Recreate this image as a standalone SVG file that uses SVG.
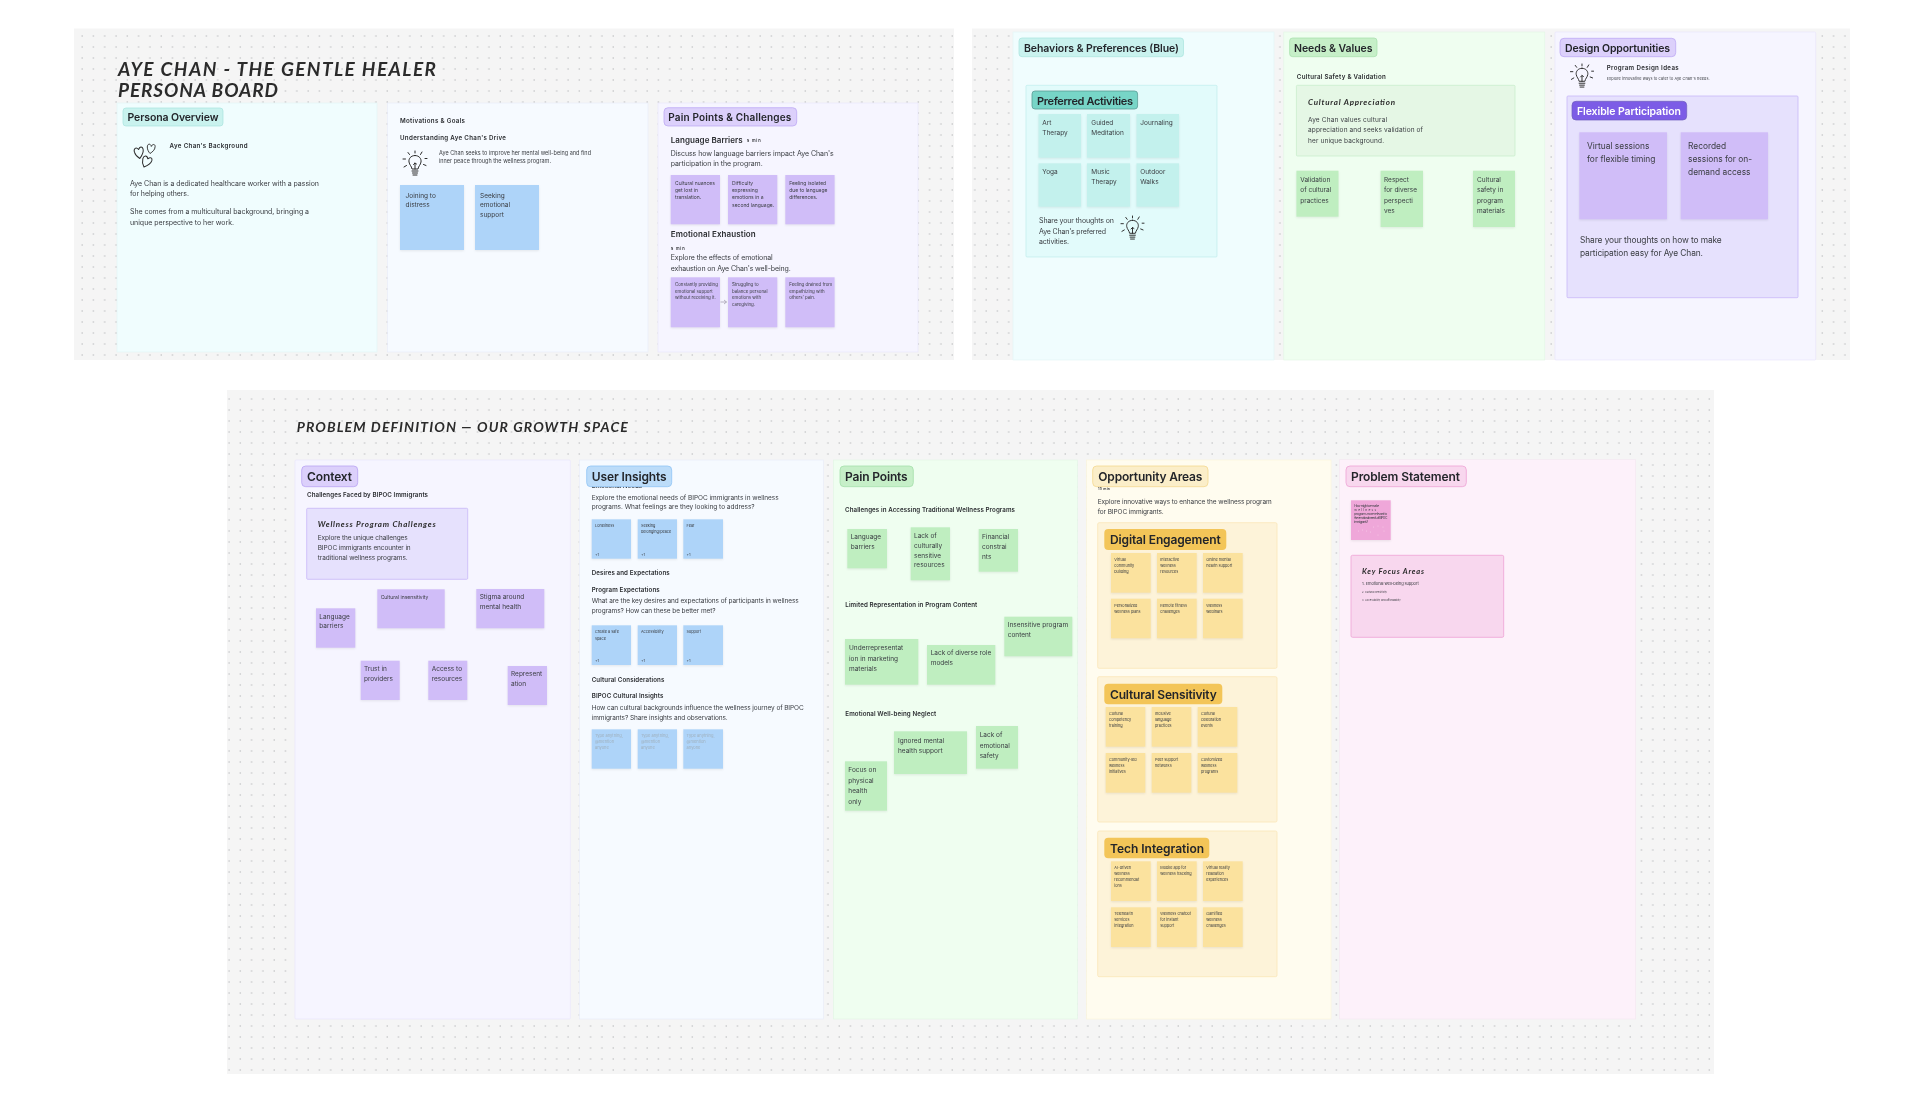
<svg xmlns="http://www.w3.org/2000/svg" width="1920" height="1098" viewBox="0 0 1920 1098">
<style>
text{font-family:Inter,"Liberation Sans",sans-serif;fill:#3a3d42;dominant-baseline:central;filter:blur(.3px)}
.b{font-weight:600;fill:#2a2c30}
.l{font-weight:600;fill:#23252a}
.w{font-weight:600;fill:#fff}
.g{fill:#9fb0bd}
.hand{font-family:Lato,"Liberation Sans",sans-serif;font-style:italic;font-weight:700;fill:#2b2b2b}
.board{fill:#f5f5f5}
.s{filter:drop-shadow(0 1px 1px rgba(0,0,0,.08))}
.sb{fill:#aed4f9}.sp{fill:#d0bdf8}.sg{fill:#bfeec0}.st{fill:#c3f1ed}.sy{fill:#fbe29e}.sk{fill:#efa7d9}
.ico{fill:none;stroke:#2b2b2b;stroke-width:1;stroke-linecap:round;stroke-linejoin:round}
.f5{font-size:5px}.f55{font-size:5.5px}.f65{font-size:6.5px}.f7{font-size:7px}.f75{font-size:7.5px}.f8{font-size:8.4px}.f4{font-size:4px}
.b.f55{font-size:6.2px}
.s+text.f7{font-size:6.5px}.s+text.f55{font-size:5px}.s+text.f5{font-size:4.4px}.sy+text{font-size:3.8px}
</style>
<defs>
<pattern id="dots" width="11.3" height="11" patternUnits="userSpaceOnUse"><circle cx="3" cy="3" r=".7" fill="#b8babc"/></pattern>
<symbol id="bulb" viewBox="0 0 26 27"><g class="ico"><path d="M13 5.500C8.500 5.500 6.500 9 7 12C7.500 15 9.500 16 10 19H16C16.500 16 18.500 15 19 12C19.500 9 17.500 5.500 13 5.500Z"/><path d="M10 21H16M10.500 23H15.500M11 25H15M13 19V13L11.500 14.500M13 13L14.500 14"/><path d="M13 1V3M6 2.500L7.500 4.500M20 2L18.500 4.500M1 9H3.500M23 8.500H25M2 17L4.500 15.500M24 15.500L21.500 14.500"/></g></symbol>
<path id="heart" d="M5 3C3 0 0 1 .5 5C1 8 3 10.500 5 12C7.500 9.500 10 7 9.500 3C9 0 6.500 0 5 3Z"/>
</defs>
<rect width="1920" height="1098" fill="#fff"/>

<g id="board-persona">
<rect class="board" x="74" y="28.500" width="880" height="331.500"/><rect x="74" y="28.500" width="880" height="331.500" fill="url(#dots)"/>
<text class="hand" font-size="19" x="118" y="68" textLength="318">AYE CHAN - THE GENTLE HEALER</text>
<text class="hand" font-size="19" x="118" y="89" textLength="160">PERSONA BOARD</text>
</g>
<g id="board-behaviors"><rect class="board" x="972" y="28.500" width="878" height="331.500"/><rect x="972" y="28.500" width="878" height="331.500" fill="url(#dots)"/></g>
<g id="board-problem">
<rect class="board" x="227" y="390" width="1487" height="684"/><rect x="227" y="390" width="1487" height="684" fill="url(#dots)"/>
<text class="hand" font-size="14" x="296.700" y="426.500" textLength="331">PROBLEM DEFINITION — OUR GROWTH SPACE</text>
</g>

<g id="col-persona-overview">
<rect x="117" y="103" width="260" height="249" fill="#f0fdfe" stroke="#e2f6f6" stroke-width=".6"/>
<rect x="123" y="108" width="100" height="18" rx="3" fill="#c9f2ee" stroke="#a8e4de" stroke-width=".7"/>
<text class="l" font-size="10.500" x="127.500" y="117.500" textLength="91">Persona Overview</text>
<g class="ico" stroke-width="1.200"><use href="#heart" transform="translate(134 146.500) rotate(-8 5 6)"/><use href="#heart" transform="translate(146.500 143.500) rotate(10 5 6) scale(.85)"/><use href="#heart" transform="translate(141.500 155.500) rotate(25 5 6)"/></g>
<text class="b f55" x="169.500" y="145.500" textLength="78">Aye Chan's Background</text>
<text class="f7" x="130" y="183" textLength="189">Aye Chan is a dedicated healthcare worker with a passion</text>
<text class="f7" x="130" y="193.500" textLength="59">for helping others.</text>
<text class="f7" x="130" y="211.700" textLength="179">She comes from a multicultural background, bringing a</text>
<text class="f7" x="130" y="222.300" textLength="104">unique perspective to her work.</text>
</g>

<g id="col-motivations">
<rect x="387.600" y="103" width="260.400" height="249" fill="#f6faff" stroke="#e8ebf8" stroke-width=".6"/>
<text class="b f55" x="400" y="120" textLength="65">Motivations &amp; Goals</text>
<text class="b f55" x="400" y="137.700" textLength="106">Understanding Aye Chan's Drive</text>
<use href="#bulb" x="402" y="150" width="26" height="27"/>
<text class="f55" x="439" y="152.700" textLength="152">Aye Chan seeks to improve her mental well-being and find</text>
<text class="f55" x="439" y="161" textLength="112">inner peace through the wellness program.</text>
</g>
<g id="note-joining"><rect class="s sb" x="400" y="185" width="64" height="65"/><text class="f7" x="405.600" y="195.700">Joining to<tspan x="405.600" y="205.300">distress</tspan></text></g>
<g id="note-seeking"><rect class="s sb" x="475" y="185" width="64" height="65"/><text class="f7" x="480" y="195.700">Seeking<tspan x="480" y="205.300">emotional</tspan><tspan x="480" y="215">support</tspan></text></g>

<g id="col-pain-challenges">
<rect x="658" y="103" width="260" height="249" fill="#f6f5ff" stroke="#e7e3fb" stroke-width=".6"/>
<rect x="664" y="107.700" width="132.700" height="18.300" rx="4" fill="#dcd0fb" stroke="#b9a3f3" stroke-width=".7"/>
<text class="l" font-size="10" x="668.300" y="117.300" textLength="123">Pain Points &amp; Challenges</text>
<text class="b" font-size="8" x="670.700" y="139.700" textLength="72">Language Barriers</text>
<text class="b" font-size="4" x="746.700" y="140" textLength="14">5 min</text>
<text class="f7" x="670.700" y="153.300" textLength="163">Discuss how language barriers impact Aye Chan's</text>
<text class="f7" x="670.700" y="163.700" textLength="92">participation in the program.</text>
<text class="b" font-size="8" x="670.700" y="233.700" textLength="85">Emotional Exhaustion</text>
<text class="b" font-size="4" x="670.700" y="248" textLength="14">5 min</text>
<text class="f7" x="670.700" y="257.700" textLength="102">Explore the effects of emotional</text>
<text class="f7" x="670.700" y="268.300" textLength="120">exhaustion on Aye Chan's well-being.</text>
</g>
<g id="note-nuances"><rect class="s sp" x="670.700" y="175" width="49.300" height="49.300"/><text class="f55" x="675" y="182.700">Cultural nuances<tspan x="675" y="190">get lost in</tspan><tspan x="675" y="197.300">translation.</tspan></text></g>
<g id="note-difficulty"><rect class="s sp" x="728" y="175" width="49.300" height="49.300"/><text class="f55" x="732" y="182.700">Difficulty<tspan x="732" y="190">expressing</tspan><tspan x="732" y="197.300">emotions in a</tspan><tspan x="732" y="204.700">second language.</tspan></text></g>
<g id="note-isolated"><rect class="s sp" x="785.300" y="175" width="49.300" height="49.300"/><text class="f55" x="789.300" y="182.700">Feeling isolated<tspan x="789.300" y="190">due to language</tspan><tspan x="789.300" y="197.300">differences.</tspan></text></g>
<g id="note-constantly"><rect class="s sp" x="670.700" y="277.300" width="49.300" height="50"/><text class="f5" x="675" y="284.700">Constantly providing<tspan x="675" y="291">emotional support</tspan><tspan x="675" y="297.300">without receiving it.</tspan></text></g>
<g id="note-struggling"><rect class="s sp" x="728" y="277.300" width="49.300" height="50"/><text class="f5" x="732" y="284.700">Struggling to<tspan x="732" y="291">balance personal</tspan><tspan x="732" y="297.300">emotions with</tspan><tspan x="732" y="303.700">caregiving.</tspan></text></g>
<g id="note-drained"><rect class="s sp" x="785.300" y="277.300" width="49.300" height="50"/><text class="f5" x="789.300" y="284.700">Feeling drained from<tspan x="789.300" y="291">empathizing with</tspan><tspan x="789.300" y="297.300">others' pain.</tspan></text></g>

<g id="col-behaviors">
<rect x="1013" y="32" width="261" height="328" fill="#f0fdfe" stroke="#e2f6f6" stroke-width=".6"/>
<rect x="1019" y="38" width="164.500" height="18.700" rx="3" fill="#c9f2ee" stroke="#a8e4de" stroke-width=".7"/>
<text class="l" font-size="10.500" x="1024" y="48" textLength="155">Behaviors &amp; Preferences (Blue)</text>
</g>
<g id="group-preferred">
<rect x="1026" y="85.300" width="191" height="171.700" rx="1" fill="#e2fbfb" stroke="#bfecec" stroke-width=".7"/>
<rect x="1032" y="91" width="105.600" height="18" rx="3" fill="#77d5c7" stroke="#5b9c95" stroke-width=".8"/>
<text class="l" font-size="11" x="1037" y="100.700" textLength="96">Preferred Activities</text>
<text class="f7" x="1039" y="220.700" textLength="75">Share your thoughts on</text>
<text class="f7" x="1039" y="231" textLength="67">Aye Chan's preferred</text>
<text class="f7" x="1039" y="241.700" textLength="30">activities.</text>
<use href="#bulb" x="1120" y="215" width="25" height="26"/>
</g>
<g id="note-art"><rect class="s st" x="1038.500" y="114" width="42.500" height="43.700"/><text class="f7" x="1042.300" y="122.700">Art<tspan x="1042.300" y="133.300">Therapy</tspan></text></g>
<g id="note-meditation"><rect class="s st" x="1087" y="114" width="43" height="43.700"/><text class="f7" x="1091.300" y="122.700">Guided<tspan x="1091.300" y="133.300">Meditation</tspan></text></g>
<g id="note-journaling"><rect class="s st" x="1136.500" y="114" width="42.500" height="43.700"/><text class="f7" x="1140.300" y="122.700">Journaling</text></g>
<g id="note-yoga"><rect class="s st" x="1038.500" y="163.300" width="42.500" height="43.400"/><text class="f7" x="1042.300" y="172">Yoga</text></g>
<g id="note-music"><rect class="s st" x="1087" y="163.300" width="43" height="43.400"/><text class="f7" x="1091.300" y="172">Music<tspan x="1091.300" y="182.300">Therapy</tspan></text></g>
<g id="note-outdoor"><rect class="s st" x="1136.500" y="163.300" width="42.500" height="43.400"/><text class="f7" x="1140.300" y="172">Outdoor<tspan x="1140.300" y="182.300">Walks</tspan></text></g>

<g id="col-needs">
<rect x="1283.800" y="32" width="261" height="328" fill="#effef0" stroke="#e2f6e4" stroke-width=".6"/>
<rect x="1289.600" y="38" width="87.400" height="18.700" rx="3" fill="#c6efc8" stroke="#a5e0ab" stroke-width=".7"/>
<text class="l" font-size="10.500" x="1294" y="48" textLength="78.500">Needs &amp; Values</text>
<text class="b f55" x="1296.800" y="76.800" textLength="89">Cultural Safety &amp; Validation</text>
</g>
<g id="box-appreciation">
<rect x="1296.400" y="85.300" width="218.600" height="70.700" rx="1" fill="#e5f7e5" stroke="#c6ecc8" stroke-width=".7"/>
<text class="hand" font-size="8" x="1308" y="101.700" textLength="87">Cultural Appreciation</text>
<text class="f65" x="1308" y="119.700" textLength="79">Aye Chan values cultural</text>
<text class="f65" x="1308" y="130" textLength="115">appreciation and seeks validation of</text>
<text class="f65" x="1308" y="140.700" textLength="76">her unique background.</text>
</g>
<g id="note-validation"><rect class="s sg" x="1296.400" y="170.700" width="42.100" height="46"/><text class="f7" x="1300.300" y="179.700">Validation<tspan x="1300.300" y="190">of cultural</tspan><tspan x="1300.300" y="201">practices</tspan></text></g>
<g id="note-respect"><rect class="s sg" x="1380.600" y="170.700" width="42.400" height="56.300"/><text class="f7" x="1384" y="179.700">Respect<tspan x="1384" y="190">for diverse</tspan><tspan x="1384" y="201">perspecti</tspan><tspan x="1384" y="211.300">ves</tspan></text></g>
<g id="note-safety"><rect class="s sg" x="1473" y="170.700" width="42" height="56.300"/><text class="f7" x="1477" y="179.700">Cultural<tspan x="1477" y="190">safety in</tspan><tspan x="1477" y="201">program</tspan><tspan x="1477" y="211.300">materials</tspan></text></g>

<g id="col-design">
<rect x="1555" y="32" width="260.700" height="328" rx="1" fill="#f6f5ff" stroke="#e7e3fb" stroke-width=".6"/>
<rect x="1560" y="38.300" width="115.700" height="18.400" rx="4" fill="#dcd0fb" stroke="#b9a3f3" stroke-width=".7"/>
<text class="l" font-size="10.500" x="1565" y="48" textLength="105">Design Opportunities</text>
<use href="#bulb" x="1569" y="63" width="26" height="26"/>
<text class="b f55" x="1606.700" y="67.300" textLength="72">Program Design Ideas</text>
<text font-size="3.800" x="1606.700" y="78.700" textLength="103">Explore innovative ways to cater to Aye Chan's needs.</text>
</g>
<g id="group-flexible">
<rect x="1567" y="96" width="231" height="201.700" rx="1" fill="#e6e1fd" stroke="#c8b8f8" stroke-width=".8"/>
<rect x="1572" y="101.300" width="114.700" height="18.700" rx="4" fill="#7c5ce6" stroke="#6f5dbb" stroke-width=".7"/>
<text class="w" font-size="10.500" x="1577" y="111" textLength="104">Flexible Participation</text>
<text class="f8" x="1580" y="240" textLength="141.700">Share your thoughts on how to make</text>
<text class="f8" x="1580" y="252.700" textLength="123">participation easy for Aye Chan.</text>
</g>
<g id="note-virtual"><rect class="s sp" x="1579.300" y="132.300" width="87.700" height="87"/><text class="f8" x="1587" y="146">Virtual sessions<tspan x="1587" y="159">for flexible timing</tspan></text></g>
<g id="note-recorded"><rect class="s sp" x="1680.700" y="132.300" width="87.300" height="87"/><text class="f8" x="1688" y="146">Recorded<tspan x="1688" y="159">sessions for on-</tspan><tspan x="1688" y="172">demand access</tspan></text></g>

<g id="col-context">
<rect x="295" y="460" width="275.300" height="559" rx="1" fill="#f6f5ff" stroke="#e7e3fb" stroke-width=".6"/>
<rect x="301.700" y="466" width="56" height="20.700" rx="4" fill="#dcd0fb" stroke="#b9a3f3" stroke-width=".8"/>
<text class="l" font-size="12" x="307" y="476" textLength="45">Context</text>
<text class="b f55" x="307" y="494.700" textLength="121">Challenges Faced by BIPOC Immigrants</text>
</g>
<g id="box-wellness">
<rect x="306.700" y="508.300" width="161" height="71" rx="1" fill="#e6e1fd" stroke="#c8b8f8" stroke-width=".8"/>
<text class="hand" font-size="8" x="317.700" y="524.300" textLength="118">Wellness Program Challenges</text>
<text class="f65" x="317.700" y="538.300" textLength="90">Explore the unique challenges</text>
<text class="f65" x="317.700" y="548" textLength="93">BIPOC immigrants encounter in</text>
<text class="f65" x="317.700" y="557.700" textLength="90">traditional wellness programs.</text>
</g>
<g id="note-c-language"><rect class="s sp" x="316" y="608.300" width="39.300" height="39.400"/><text class="f7" x="319.300" y="616.700">Language<tspan x="319.300" y="626.300">barriers</tspan></text></g>
<g id="note-c-insensitivity"><rect class="s sp" x="377.300" y="589.300" width="67.400" height="39"/><text class="f55" x="380.700" y="597">Cultural insensitivity</text></g>
<g id="note-c-stigma"><rect class="s sp" x="476.300" y="589" width="68" height="39.300"/><text class="f7" x="479.700" y="597">Stigma around<tspan x="479.700" y="607">mental health</tspan></text></g>
<g id="note-c-trust"><rect class="s sp" x="360.700" y="660.700" width="39" height="39.300"/><text class="f7" x="364" y="669">Trust in<tspan x="364" y="679">providers</tspan></text></g>
<g id="note-c-access"><rect class="s sp" x="428.300" y="660.700" width="39" height="39.300"/><text class="f7" x="431.700" y="669">Access to<tspan x="431.700" y="679">resources</tspan></text></g>
<g id="note-c-representation"><rect class="s sp" x="507.700" y="666" width="39.300" height="39"/><text class="f7" x="511" y="674.300">Represent<tspan x="511" y="684.300">ation</tspan></text></g>

<g id="col-insights">
<rect x="579.300" y="460" width="244" height="559" fill="#f6faff" stroke="#e8ebf8" stroke-width=".6"/>
<text class="b f55" x="591.700" y="485">Emotional Needs</text>
<rect x="586.700" y="466" width="85" height="20.700" rx="4" fill="#bcdcf9" stroke="#8fc4f5" stroke-width=".8"/>
<text class="l" font-size="12" x="591.700" y="476" textLength="75">User Insights</text>
<text class="f65" x="591.700" y="497.700" textLength="187">Explore the emotional needs of BIPOC immigrants in wellness</text>
<text class="f65" x="591.700" y="507.300" textLength="163">programs. What feelings are they looking to address?</text>
<text class="b f55" x="591.700" y="572.700" textLength="78">Desires and Expectations</text>
<text class="b f55" x="591.700" y="589" textLength="68">Program Expectations</text>
<text class="f65" x="591.700" y="601.300" textLength="207">What are the key desires and expectations of participants in wellness</text>
<text class="f65" x="591.700" y="611" textLength="124">programs? How can these be better met?</text>
<text class="b f55" x="591.700" y="679" textLength="72.700">Cultural Considerations</text>
<text class="b f55" x="591.700" y="695.300" textLength="71.700">BIPOC Cultural Insights</text>
<text class="f65" x="591.700" y="707.700" textLength="212">How can cultural backgrounds influence the wellness journey of BIPOC</text>
<text class="f65" x="591.700" y="717.700" textLength="136">immigrants? Share insights and observations.</text>
</g>
<g id="note-i-loneliness"><rect class="s sb" x="591.700" y="519.300" width="39.300" height="39.400"/><text font-size="3.800" x="595" y="525.300">Loneliness<tspan x="595" y="553.700">+1</tspan></text></g>
<g id="note-i-belonging"><rect class="s sb" x="637.700" y="519.300" width="39.300" height="39.400"/><text font-size="3.800" x="641" y="525.300">Seeking<tspan x="641" y="531.300">belonging/peace</tspan><tspan x="641" y="553.700">+1</tspan></text></g>
<g id="note-i-fear"><rect class="s sb" x="683.300" y="519.300" width="39.700" height="39.400"/><text font-size="3.800" x="686.600" y="525.300">Fear<tspan x="686.600" y="553.700">+1</tspan></text></g>
<g id="note-i-safe"><rect class="s sb" x="591.700" y="625.300" width="39.300" height="39.700"/><text font-size="3.800" x="595" y="631.700">Create a safe<tspan x="595" y="637.700">space</tspan><tspan x="595" y="659.700">+1</tspan></text></g>
<g id="note-i-accessibility"><rect class="s sb" x="637.700" y="625.300" width="39.300" height="39.700"/><text font-size="3.800" x="641" y="631.700">Accessibility<tspan x="641" y="659.700">+1</tspan></text></g>
<g id="note-i-support"><rect class="s sb" x="683.300" y="625.300" width="39.700" height="39.700"/><text font-size="3.800" x="686.600" y="631.700">Support<tspan x="686.600" y="659.700">+1</tspan></text></g>
<g id="note-i-type1"><rect class="s sb" x="591.700" y="729.300" width="39.300" height="39.400"/><text class="g" font-size="4" x="595" y="735.300">Type anything,<tspan x="595" y="741.300">@mention</tspan><tspan x="595" y="747.300">anyone</tspan></text></g>
<g id="note-i-type2"><rect class="s sb" x="637.700" y="729.300" width="39.300" height="39.400"/><text class="g" font-size="4" x="641" y="735.300">Type anything,<tspan x="641" y="741.300">@mention</tspan><tspan x="641" y="747.300">anyone</tspan></text></g>
<g id="note-i-type3"><rect class="s sb" x="683.300" y="729.300" width="39.700" height="39.400"/><text class="g" font-size="4" x="686.600" y="735.300">Type anything,<tspan x="686.600" y="741.300">@mention</tspan><tspan x="686.600" y="747.300">anyone</tspan></text></g>

<g id="col-pain-points">
<rect x="833.300" y="460" width="244" height="559" fill="#effef0" stroke="#e2f6e4" stroke-width=".6"/>
<rect x="840" y="466" width="73.300" height="20.700" rx="4" fill="#c6efc8" stroke="#a5e0ab" stroke-width=".8"/>
<text class="l" font-size="12" x="845" y="476" textLength="62.700">Pain Points</text>
<text class="b f55" x="845" y="509.300" textLength="170">Challenges in Accessing Traditional Wellness Programs</text>
<text class="b f55" x="845.300" y="604" textLength="132">Limited Representation in Program Content</text>
<text class="b f55" x="845.300" y="713.700" textLength="91">Emotional Well-being Neglect</text>
</g>
<g id="note-p-language"><rect class="s sg" x="847.300" y="529" width="39.700" height="39.300"/><text class="f7" x="850.700" y="537.300">Language<tspan x="850.700" y="547">barriers</tspan></text></g>
<g id="note-p-culturally"><rect class="s sg" x="910.700" y="527.300" width="39.300" height="53"/><text class="f7" x="914" y="535.700">Lack of<tspan x="914" y="545.700">culturally</tspan><tspan x="914" y="555.700">sensitive</tspan><tspan x="914" y="565.300">resources</tspan></text></g>
<g id="note-p-financial"><rect class="s sg" x="978.700" y="529" width="39.300" height="42.700"/><text class="f7" x="982" y="537.300">Financial<tspan x="982" y="547">constrai</tspan><tspan x="982" y="556.700">nts</tspan></text></g>
<g id="note-p-insensitive"><rect class="s sg" x="1004.300" y="616.700" width="68" height="39.600"/><text class="f7" x="1007.700" y="625">Insensitive program<tspan x="1007.700" y="634.700">content</tspan></text></g>
<g id="note-p-under"><rect class="s sg" x="845" y="639" width="73.300" height="45.700"/><text class="f7" x="849" y="648">Underrepresentat<tspan x="849" y="658.700">ion in marketing</tspan><tspan x="849" y="669">materials</tspan></text></g>
<g id="note-p-diverse"><rect class="s sg" x="927" y="645" width="68.300" height="39.700"/><text class="f7" x="930.700" y="653.300">Lack of diverse role<tspan x="930.700" y="663">models</tspan></text></g>
<g id="note-p-ignored"><rect class="s sg" x="894" y="731.300" width="73" height="42.700"/><text class="f7" x="898" y="740.700">Ignored mental<tspan x="898" y="751">health support</tspan></text></g>
<g id="note-p-safety"><rect class="s sg" x="976" y="726" width="42" height="42.700"/><text class="f7" x="979.700" y="735">Lack of<tspan x="979.700" y="745.700">emotional</tspan><tspan x="979.700" y="756">safety</tspan></text></g>
<g id="note-p-focus"><rect class="s sg" x="845" y="761.300" width="42" height="49.400"/><text class="f7" x="848.300" y="770.300">Focus on<tspan x="848.300" y="780.700">physical</tspan><tspan x="848.300" y="791.300">health</tspan><tspan x="848.300" y="801.700">only</tspan></text></g>

<g id="col-opportunity">
<rect x="1086.700" y="460" width="244.300" height="559" fill="#fffcef" stroke="#fbf3d8" stroke-width=".6"/>
<rect x="1092.700" y="466" width="115.300" height="20.700" rx="4" fill="#fbeec9" stroke="#f4d88f" stroke-width=".8"/>
<text class="l" font-size="12" x="1098.300" y="476" textLength="104">Opportunity Areas</text>
<text class="b" font-size="3.500" x="1098" y="489" textLength="12">15 min</text>
<text class="f65" x="1097.700" y="501.700" textLength="174">Explore innovative ways to enhance the wellness program</text>
<text class="f65" x="1097.700" y="511.700" textLength="66">for BIPOC immigrants.</text>
</g>
<g id="group-digital">
<rect x="1097.700" y="522.700" width="179.300" height="145.600" rx="1.500" fill="#fdf3d9" stroke="#fae6b8" stroke-width=".8"/>
<rect x="1104.300" y="529" width="122" height="21" rx="4" fill="#f3c558"/>
<text class="l" font-size="12" x="1110" y="539.500" textLength="110.700">Digital Engagement</text>
</g>
<g id="note-d1"><rect class="s sy" x="1111" y="553" width="39.700" height="39.700"/><text font-size="4" x="1114.300" y="559">Virtual<tspan x="1114.300" y="565">community</tspan><tspan x="1114.300" y="571">building</tspan></text></g>
<g id="note-d2"><rect class="s sy" x="1157" y="553" width="39.700" height="39.700"/><text font-size="4" x="1160.300" y="559">Interactive<tspan x="1160.300" y="565">wellness</tspan><tspan x="1160.300" y="571">resources</tspan></text></g>
<g id="note-d3"><rect class="s sy" x="1203" y="553" width="39.700" height="39.700"/><text font-size="4" x="1206.300" y="559">Online mental<tspan x="1206.300" y="565">health support</tspan></text></g>
<g id="note-d4"><rect class="s sy" x="1111" y="598.700" width="39.700" height="39.600"/><text font-size="4" x="1114.300" y="605">Personalized<tspan x="1114.300" y="611">wellness plans</tspan></text></g>
<g id="note-d5"><rect class="s sy" x="1157" y="598.700" width="39.700" height="39.600"/><text font-size="4" x="1160.300" y="605">Remote fitness<tspan x="1160.300" y="611">challenges</tspan></text></g>
<g id="note-d6"><rect class="s sy" x="1203" y="598.700" width="39.700" height="39.600"/><text font-size="4" x="1206.300" y="605">Wellness<tspan x="1206.300" y="611">webinars</tspan></text></g>

<g id="group-cultural">
<rect x="1097.700" y="676.700" width="179.300" height="145.300" rx="1.500" fill="#fdf3d9" stroke="#fae6b8" stroke-width=".8"/>
<rect x="1104.300" y="683.700" width="118" height="20.600" rx="4" fill="#f3c558"/>
<text class="l" font-size="12" x="1110" y="694" textLength="106.700">Cultural Sensitivity</text>
</g>
<g id="note-s1"><rect class="s sy" x="1105.700" y="707" width="39.600" height="39.700"/><text font-size="4" x="1109" y="713.300">Cultural<tspan x="1109" y="719.300">competency</tspan><tspan x="1109" y="725.300">training</tspan></text></g>
<g id="note-s2"><rect class="s sy" x="1151.700" y="707" width="39.600" height="39.700"/><text font-size="4" x="1155" y="713.300">Inclusive<tspan x="1155" y="719.300">language</tspan><tspan x="1155" y="725.300">practices</tspan></text></g>
<g id="note-s3"><rect class="s sy" x="1197.700" y="707" width="39.600" height="39.700"/><text font-size="4" x="1201" y="713.300">Cultural<tspan x="1201" y="719.300">celebration</tspan><tspan x="1201" y="725.300">events</tspan></text></g>
<g id="note-s4"><rect class="s sy" x="1105.700" y="753" width="39.600" height="39.700"/><text font-size="4" x="1109" y="759.300">Community-led<tspan x="1109" y="765.300">wellness</tspan><tspan x="1109" y="771.300">initiatives</tspan></text></g>
<g id="note-s5"><rect class="s sy" x="1151.700" y="753" width="39.600" height="39.700"/><text font-size="4" x="1155" y="759.300">Peer support<tspan x="1155" y="765.300">networks</tspan></text></g>
<g id="note-s6"><rect class="s sy" x="1197.700" y="753" width="39.600" height="39.700"/><text font-size="4" x="1201" y="759.300">Customized<tspan x="1201" y="765.300">wellness</tspan><tspan x="1201" y="771.300">programs</tspan></text></g>

<g id="group-tech">
<rect x="1097.700" y="831" width="179.300" height="145.700" rx="1.500" fill="#fdf3d9" stroke="#fae6b8" stroke-width=".8"/>
<rect x="1104.300" y="837.700" width="105" height="20.600" rx="4" fill="#f3c558"/>
<text class="l" font-size="12" x="1110" y="848" textLength="94">Tech Integration</text>
</g>
<g id="note-t1"><rect class="s sy" x="1111" y="861.300" width="39.700" height="39.700"/><text font-size="4" x="1114.300" y="867.300">AI-driven<tspan x="1114.300" y="873.300">wellness</tspan><tspan x="1114.300" y="879.300">recommendat</tspan><tspan x="1114.300" y="885.300">ions</tspan></text></g>
<g id="note-t2"><rect class="s sy" x="1157" y="861.300" width="39.700" height="39.700"/><text font-size="4" x="1160.300" y="867.300">Mobile app for<tspan x="1160.300" y="873.300">wellness tracking</tspan></text></g>
<g id="note-t3"><rect class="s sy" x="1203" y="861.300" width="39.700" height="39.700"/><text font-size="4" x="1206.300" y="867.300">Virtual reality<tspan x="1206.300" y="873.300">relaxation</tspan><tspan x="1206.300" y="879.300">experiences</tspan></text></g>
<g id="note-t4"><rect class="s sy" x="1111" y="907.300" width="39.700" height="39.700"/><text font-size="4" x="1114.300" y="913.300">Telehealth<tspan x="1114.300" y="919.300">services</tspan><tspan x="1114.300" y="925.300">integration</tspan></text></g>
<g id="note-t5"><rect class="s sy" x="1157" y="907.300" width="39.700" height="39.700"/><text font-size="4" x="1160.300" y="913.300">Wellness chatbot<tspan x="1160.300" y="919.300">for instant</tspan><tspan x="1160.300" y="925.300">support</tspan></text></g>
<g id="note-t6"><rect class="s sy" x="1203" y="907.300" width="39.700" height="39.700"/><text font-size="4" x="1206.300" y="913.300">Gamified<tspan x="1206.300" y="919.300">wellness</tspan><tspan x="1206.300" y="925.300">challenges</tspan></text></g>

<g id="col-problem">
<rect x="1339.300" y="459.700" width="296.400" height="559.300" fill="#fdf1fa" stroke="#f3e6f1" stroke-width=".6"/>
<rect x="1346" y="466" width="120.300" height="20.700" rx="4" fill="#f8d7ee" stroke="#efa9d8" stroke-width=".9"/>
<text class="l" font-size="12" x="1351" y="476" textLength="109">Problem Statement</text>
</g>
<g id="note-statement">
<rect class="s sk" x="1351" y="500.300" width="39.700" height="39.700"/>
<text font-size="3.300" x="1354.300" y="505.700" textLength="25">How might we make</text>
<text font-size="3.300" x="1354.300" y="509.700" textLength="22">wellness</text>
<text font-size="3.300" x="1354.300" y="513.700" textLength="33">programs more relevant to</text>
<text font-size="3.300" x="1354.300" y="517.700" textLength="33">the emotional needs of BIPOC</text>
<text font-size="3.300" x="1354.300" y="521.700" textLength="14">immigrants?</text>
<g fill="#fbe6f5"><circle cx="1358.500" cy="531" r=".4"/><circle cx="1362.500" cy="530" r=".4"/><circle cx="1366.500" cy="531" r=".4"/><circle cx="1370.500" cy="532" r=".4"/><circle cx="1373.500" cy="527" r=".4"/><circle cx="1378" cy="526" r=".4"/><circle cx="1383" cy="527" r=".4"/><circle cx="1378" cy="535" r=".4"/><circle cx="1384" cy="531" r=".4"/></g>
</g>
<g id="box-focus">
<rect x="1351" y="555.300" width="152.700" height="82" rx="1.500" fill="#f8d7ee" stroke="#efa9d8" stroke-width=".9"/>
<text class="hand" font-size="7.500" x="1362" y="571" textLength="62">Key Focus Areas</text>
<text font-size="4" x="1362" y="583" textLength="56.700">1. Emotional well-being support</text>
<text font-size="2.600" x="1362" y="591.700" textLength="25">2. Cultural sensitivity</text>
<text font-size="2.600" x="1362" y="599.700" textLength="38.700">3. Accessibility and affordability</text>
</g>

<g id="connectors">
<path d="M720.500 302H726.500M724 300L726.500 302L724 304" fill="none" stroke="#9b97a8" stroke-width=".7"/>
</g>
</svg>
